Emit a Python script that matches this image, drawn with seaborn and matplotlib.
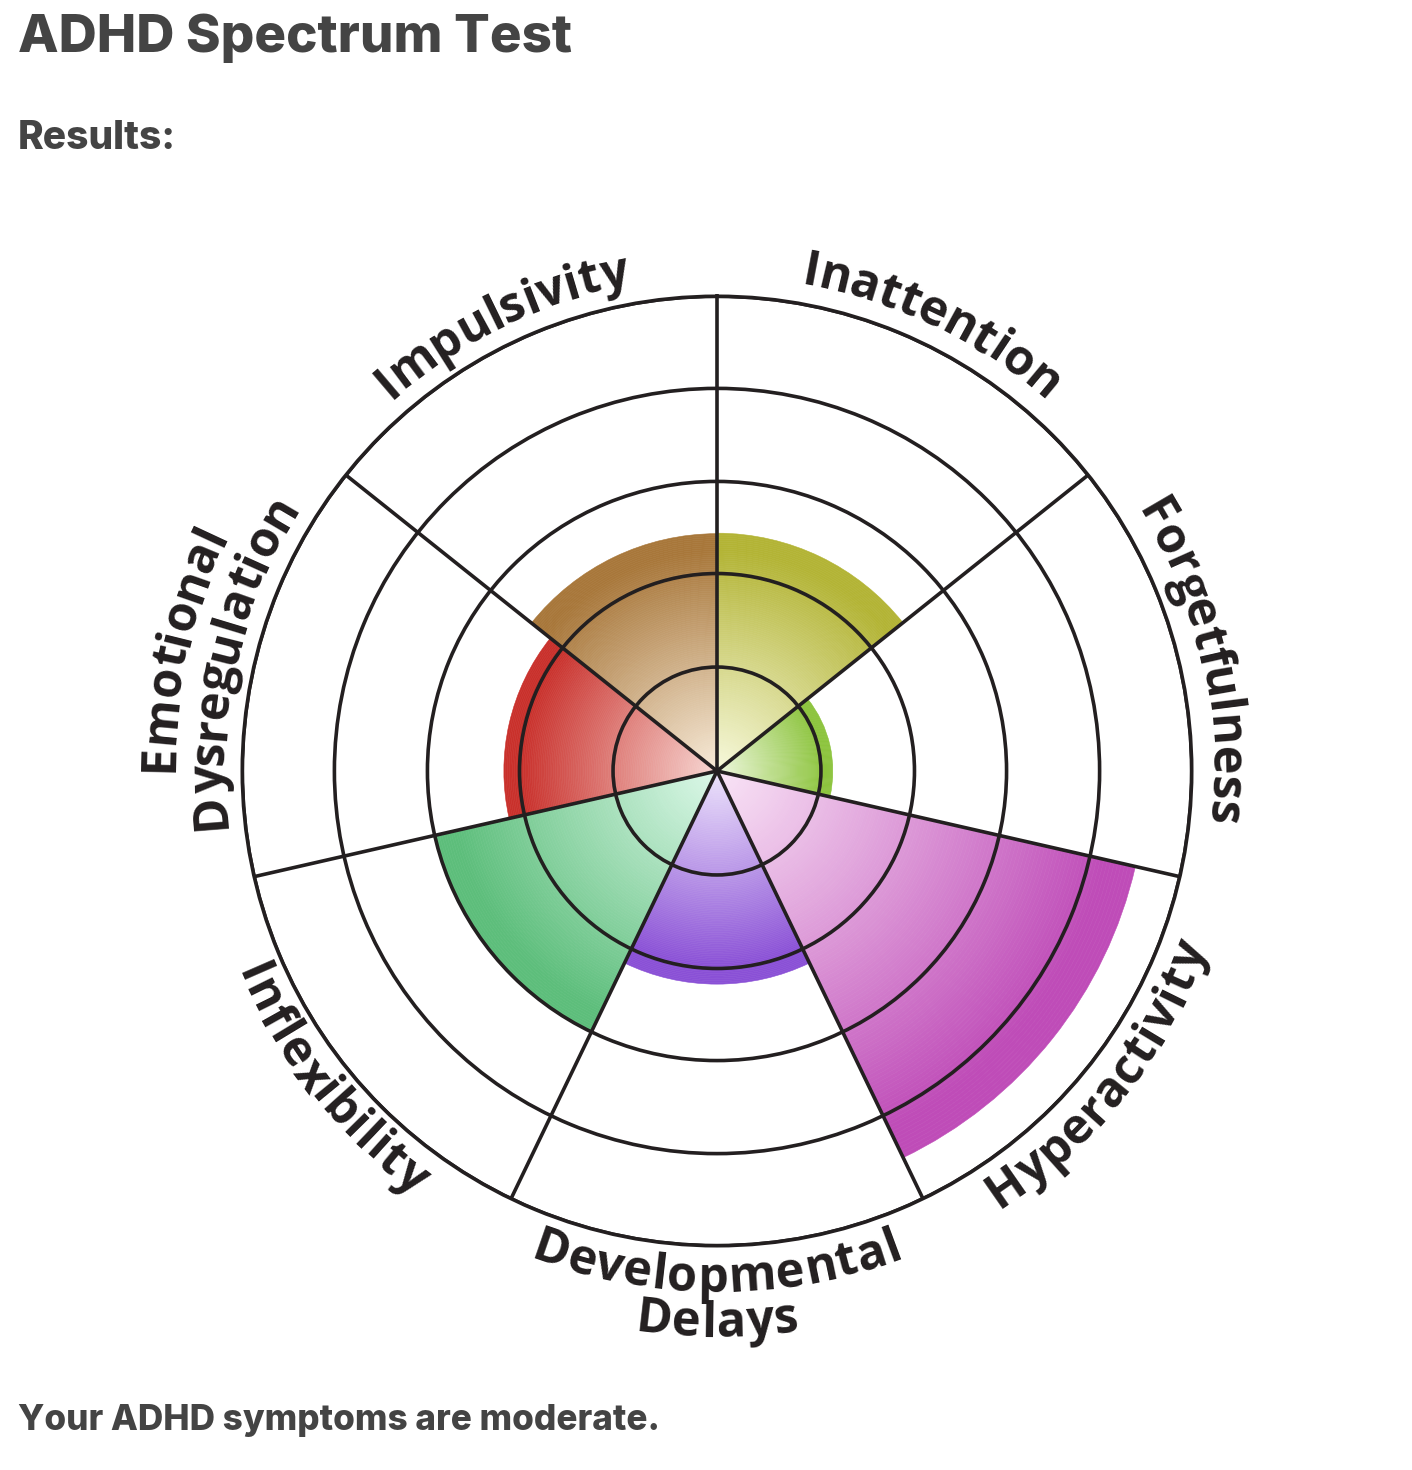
import numpy as np
import matplotlib
matplotlib.use("Agg")
import matplotlib.pyplot as plt
import seaborn as sns
from matplotlib.font_manager import FontProperties

# ---------------- data ----------------
categories = ["Inattention", "Forgetfulness", "Hyperactivity", "Developmental\nDelays",
              "Inflexibility", "Emotional\nDysregulation", "Impulsivity"]
scores = [50.1, 24.4, 90.4, 44.9, 61.0, 44.9, 50.0]
edge_colors = ["#b3b435", "#8cc43c", "#bf4cb8", "#8a50d6", "#5dbe7b", "#c9302b", "#a8773a"]
center_colors = ["#f7f9dc", "#eff8de", "#f9e4f6", "#ece2fb", "#dcf8e9", "#f7d6d2", "#f7ead8"]
ring_levels = [21.9, 41.6, 61.0, 80.6, 100.0]
title_text = "ADHD Spectrum Test"
subtitle_text = "Results:"
summary_text = "Your ADHD symptoms are moderate."

# ---------------- style ----------------
sns.set_style("white")
plt.rcParams["font.family"] = ["Open Sans", "DejaVu Sans"]

W_PX, H_PX, DPI = 1412, 1470, 100
fig = plt.figure(figsize=(W_PX / DPI, H_PX / DPI), dpi=DPI)
fig.patch.set_facecolor("white")

CX, CY, R_OUT = 717, 771, 474.7
ax = fig.add_axes([(CX - R_OUT) / W_PX, (H_PX - CY - R_OUT) / H_PX,
                   2 * R_OUT / W_PX, 2 * R_OUT / H_PX], projection="polar")
ax.set_facecolor("white")
ax.set_theta_zero_location("N")
ax.set_theta_direction(-1)
ax.set_ylim(0, 100)
px_per_unit = R_OUT / 100.0

n_cat = len(categories)
sector = 2 * np.pi / n_cat
centers = np.arange(n_cat) * sector + sector / 2

# gradient-filled sectors
n_steps = 120
for th, v, c0, c1 in zip(centers, scores, center_colors, edge_colors):
    n_grad = int(n_steps * 0.94)
    pal = sns.blend_palette([c0, c1], n_grad) + [c1] * (n_steps - n_grad)
    edges = np.linspace(0, v, n_steps + 1)
    ax.bar([th] * n_steps, np.diff(edges), width=sector, bottom=edges[:-1],
           color=pal, edgecolor=pal, linewidth=0.4, align="center", zorder=1)

line_c = "#231f20"
ax.set_xticks(np.arange(n_cat) * sector)
ax.set_xticklabels([])
ax.set_yticks(ring_levels)
ax.set_yticklabels([])
ax.tick_params(length=0)
ax.grid(True, color=line_c, linewidth=2.6)
ax.set_axisbelow(False)
ax.spines["polar"].set_color(line_c)
ax.spines["polar"].set_linewidth(2.6)

# ---------------- curved labels ----------------
renderer = fig.canvas.get_renderer()
LABEL_FS = 35
label_prop = FontProperties(family=["Open Sans", "DejaVu Sans"], weight="bold", size=LABEL_FS)
em_px = LABEL_FS * DPI / 72.0
TRACK = 0.6  # extra letter spacing in px


def tw(s):
    if not s:
        return 0.0
    return renderer.get_text_width_height_descent(s, label_prop, ismath=False)[0]


def curved(text, theta_c_deg, r_px, outward):
    total = tw(text) + TRACK * (len(text) - 1)
    r_mid = r_px + (0.33 * em_px if outward else -0.2 * em_px)
    for k, ch in enumerate(text):
        cw = tw(ch)
        left = 0.5 * (tw(text[:k]) + tw(text[:k + 1]) - cw) + TRACK * k
        s = left + cw / 2 - total / 2
        d = np.degrees(s / r_mid)
        th = theta_c_deg + d if outward else theta_c_deg - d
        rot = -th if outward else 180 - th
        ax.text(np.radians(th), r_px / px_per_unit, ch, rotation=rot,
                rotation_mode="anchor", ha="center", va="baseline",
                fontproperties=label_prop, color=line_c, clip_on=False, zorder=5)


line_gap = 50
for th, name in zip(np.degrees(centers), categories):
    lines = name.split("\n")
    outward = (th < 100) or (th > 260)
    for j, ln in enumerate(lines):
        if outward:
            r = 494 + (len(lines) - 1 - j) * line_gap
        else:
            r = 521 + j * (line_gap - 5)
        curved(ln, th, r, outward)

# ---------------- page texts ----------------
head_family = ["Inter", "Roboto", "DejaVu Sans"]
fig.text(18 / W_PX, 1 - 52 / H_PX, title_text, fontsize=38, fontweight="heavy",
         family=head_family, color="#444444", ha="left", va="baseline")
fig.text(18 / W_PX, 1 - 149 / H_PX, subtitle_text, fontsize=28, fontweight="heavy",
         family=head_family, color="#444444", ha="left", va="baseline")
fig.text(18 / W_PX, 1 - 1430 / H_PX, summary_text, fontsize=25.3, fontweight="heavy",
         family=head_family, color="#444444", ha="left", va="baseline")

fig.savefig("out.png", dpi=DPI, facecolor="white")
